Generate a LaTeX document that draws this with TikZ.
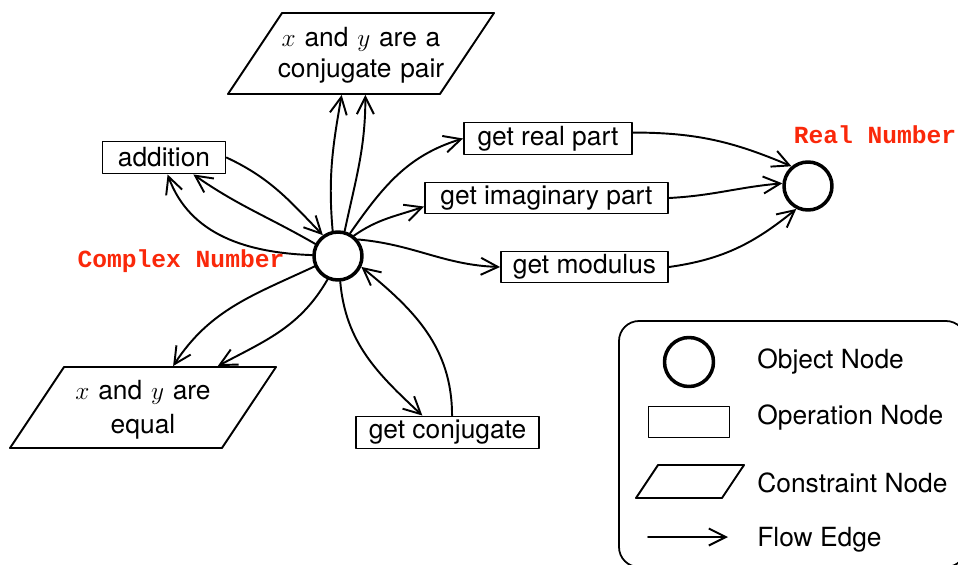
\documentclass[tikz,border=0pt]{standalone}
\usepackage{fontspec}
\setmainfont{TeX Gyre Heros}
\newfontfamily\codefont{Liberation Mono}
\usetikzlibrary{shapes.geometric,arrows.meta}
\definecolor{objred}{RGB}{250,40,10}
\begin{document}
\begin{tikzpicture}[x=0.02cm, y=0.02cm, line join=round, line cap=round,
	font=\fontsize{15}{18}\selectfont,
	flow/.style={-{Straight Barb[length=3.4mm,width=3.4mm]}, line width=1.1pt},
	obj/.style={circle, draw, line width=2pt, minimum size=0.96cm, inner sep=0pt},
	op/.style={rectangle, draw, line width=1.1pt, inner sep=0pt, minimum height=0.64cm},
	cons/.style={trapezium, trapezium left angle=56.3, trapezium right angle=123.7,
		draw, line width=1.1pt, align=center, inner ysep=0pt, inner xsep=-0.54cm,
		text width=4.24cm, text height=0.66cm, text depth=0.96cm},
	objlabel/.style={text=objred, font=\codefont\bfseries\fontsize{14}{16}\selectfont},
	legendtext/.style={anchor=west, inner sep=0pt}]
	\useasboundingbox (0,0) rectangle (958,-565);
	% object nodes
	\node[obj] (cn) at (338,-256) {};
	\node[obj] (rn) at (808,-186) {};
	\node[objlabel] (cnlabel) at (181,-261) {Complex Number};
	\node[objlabel] (rnlabel) at (875,-135) {Real Number};
	% operation nodes
	\node[op, minimum width=2.46cm] (add) at (164,-157.5) {addition};
	\node[op, minimum width=3.36cm] (rp) at (548,-138.5) {get real part};
	\node[op, minimum width=4.86cm, minimum height=0.62cm] (im) at (546.5,-198) {get imaginary part};
	\node[op, minimum width=3.34cm, minimum height=0.62cm] (md) at (584.5,-267) {get modulus};
	\node[op, minimum width=3.66cm] (cj) at (447.5,-432.5) {get conjugate};
	% constraint nodes
	\node[cons] (cp) at (361,-53.5) {$x$ and $y$ are a\\conjugate pair};
	\node[cons, text height=0.64cm, text depth=0.98cm] (eq) at (143,-407.5) {$x$ and $y$ are\\[1.7pt]equal};
	% flow edges
	\draw[flow] (add.east) to[out=-25, in=134] (cn.126);
	\draw[flow] (cn.152) to[out=150, in=-35] (add.-30);
	\draw[flow] (cn.178) to[out=178, in=-70] (add.-78);
	\draw[flow] (cn.102) to[out=95, in=-100] (cp.-115);
	\draw[flow] (cn.75) to[out=78, in=-90] (cp.-84);
	\draw[flow] (cn.62) to[out=55, in=-163] (rp.west);
	\draw[flow] (cn.52) to[out=35, in=-161] (im.184);
	\draw[flow] (cn.40) to[out=-5, in=178] (md.west);
	\draw[flow] (cn.204) to[out=205, in=57] (eq.54);
	\draw[flow] (cn.246) to[out=240, in=28] (eq.29);
	\draw[flow] (cn.-85) to[out=-85, in=137] (cj.146);
	\draw[flow] (cj.75) to[out=90, in=-39] (cn.-25);
	\draw[flow] (rp.4) to[out=0, in=157] (rn.130);
	\draw[flow] (im.east) to[out=3, in=-175] (rn.174);
	\draw[flow] (md.east) to[out=8, in=-141] (rn.-117);
	% legend
	\draw[line width=1pt, rounded corners=0.4cm] (619,-321) rectangle (966,-567);
	\node[obj, minimum size=0.98cm] (lgobj) at (689,-362) {};
	\node[op, minimum width=1.62cm, minimum height=0.62cm] (lgop) at (689,-422) {};
	\node[cons, inner xsep=0pt, text width=1.28cm, text height=0.66cm, text depth=0pt] (lgcons) at (690,-481.5) {};
	\coordinate (lgfrom) at (648,-537);
	\coordinate (lgto) at (728,-537);
	\draw[flow] (lgfrom) -- (lgto);
	\node[legendtext] (lgobjtext) at (757,-362) {Object Node};
	\node[legendtext] (lgoptext) at (757,-418) {Operation Node};
	\node[legendtext] (lgconstext) at (757,-483) {Constraint Node};
	\node[legendtext] (lgflowtext) at (757,-540) {Flow Edge};
\end{tikzpicture}
\end{document}
